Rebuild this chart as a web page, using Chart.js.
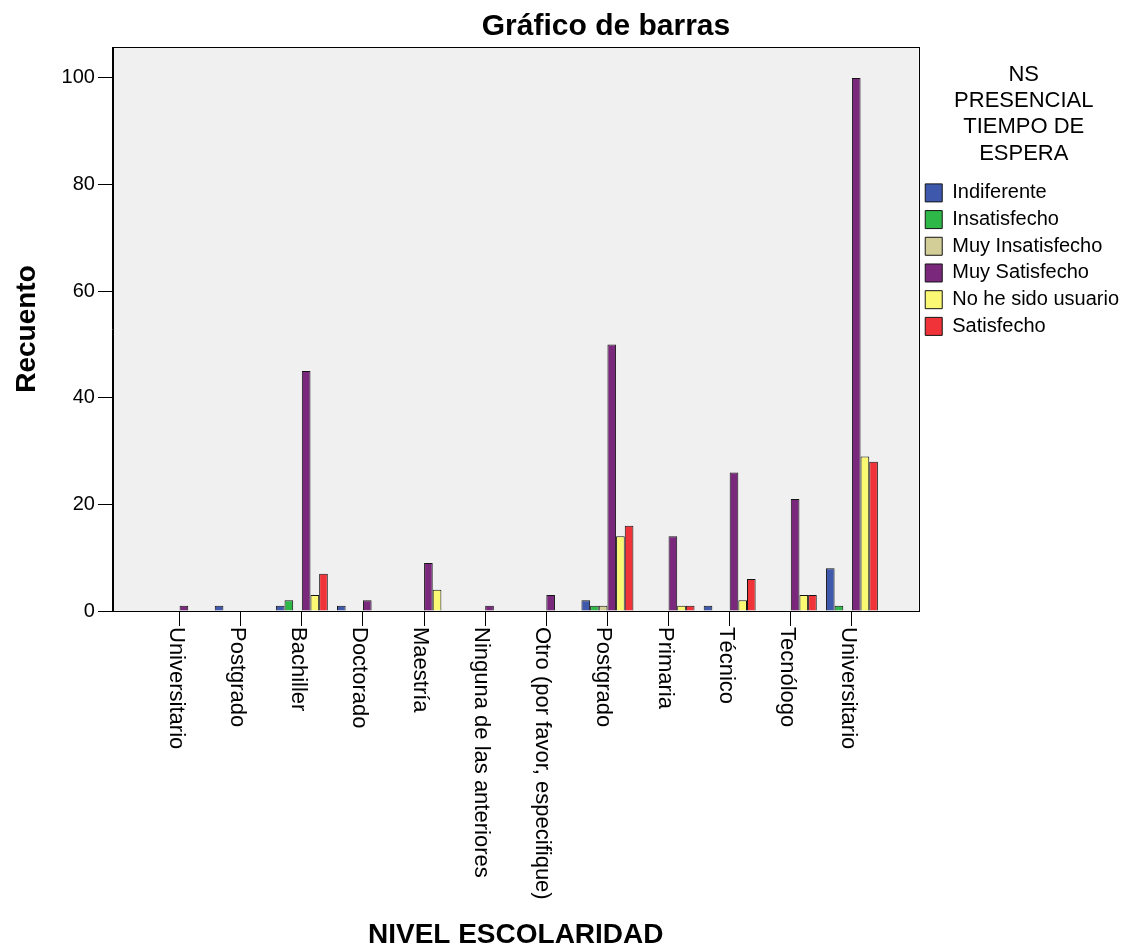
<!DOCTYPE html>
<html lang="es">
<head>
<meta charset="utf-8">
<title>Gráfico de barras</title>
<script src="https://cdn.jsdelivr.net/npm/chart.js@4.4.1/dist/chart.umd.min.js"></script>
<style>
  html, body { margin: 0; padding: 0; background: #fff; }
</style>
</head>
<body>
<canvas id="grafica" width="1129" height="952"></canvas>
<script>
// NIVEL ESCOLARIDAD (orden tal como sale en el gráfico)
const categorias = ['Universitario', 'Postgrado', 'Bachiller', 'Doctorado', 'Maestría', 'Ninguna de las anteriores',
  'Otro (por favor, especifique)', 'Postgrado', 'Primaria', 'Técnico', 'Tecnólogo', 'Universitario']

// recuentos por respuesta de NS PRESENCIAL TIEMPO DE ESPERA
const indiferente = [0, 1, 1, 1, 0, 0, 0, 2, 0, 1, 0, 8]
const insatisfecho = [0, 0, 2, 0, 0, 0, 0, 1, 0, 0, 0, 1]
const muyInsatisfecho = [0, 0, 0, 0, 0, 0, 0, 1, 0, 0, 0, 0]
const muySatisfecho = [1, 0, 45, 2, 9, 1, 3, 50, 14, 26, 21, 100]
const noHeSidoUsuario = [0, 0, 3, 0, 4, 0, 0, 14, 1, 2, 3, 29]
const satisfecho = [0, 0, 7, 0, 0, 0, 0, 16, 1, 6, 3, 28]

const ticksY = [0, 20, 40, 60, 80, 100]
const tituloLeyenda = ['NS', 'PRESENCIAL', 'TIEMPO DE', 'ESPERA']

const fuente = 'Arial, "Liberation Sans", sans-serif'
Chart.defaults.font.family = fuente
Chart.defaults.color = '#000'

// los ceros no se dibujan, pero el hueco se mantiene
const serie = (label, valores, color) => ({
  label: label,
  data: valores.map((v, i) => ({ x: i, y: v === 0 ? null : v })),
  backgroundColor: color,
  borderColor: '#141414',
  borderWidth: 1
})

const fondo = {
  id: 'fondo',
  beforeDraw(chart) {
    const { ctx, chartArea: a } = chart
    ctx.save()
    ctx.fillStyle = '#fff'
    ctx.fillRect(0, 0, chart.width, chart.height)
    ctx.fillStyle = '#f0f0f0'
    ctx.fillRect(a.left, a.top, a.right - a.left, a.bottom - a.top)
    ctx.restore()
  },
  afterDatasetsDraw(chart) {
    const { ctx, chartArea: a } = chart
    ctx.save()
    ctx.strokeStyle = '#000'
    ctx.lineWidth = 1
    ctx.strokeRect(Math.round(a.left) + 0.5, Math.round(a.top) + 0.5, Math.round(a.right - a.left), Math.round(a.bottom - a.top))
    ctx.restore()
  }
}

// título principal y etiquetas del eje X (giradas hacia abajo, como en SPSS)
const textos = {
  id: 'textos',
  afterDraw(chart) {
    const { ctx, chartArea, scales: { x } } = chart
    ctx.save()
    ctx.fillStyle = '#000'
    ctx.font = 'bold 30px ' + fuente
    ctx.textAlign = 'center'
    ctx.textBaseline = 'alphabetic'
    ctx.fillText('Gráfico de barras', 606, 35)

    ctx.font = '22px ' + fuente
    ctx.textAlign = 'left'
    x.ticks.forEach(t => {
      ctx.save()
      ctx.translate(x.getPixelForValue(t.value), chartArea.bottom + 15)
      ctx.rotate(Math.PI / 2)
      ctx.fillText(categorias[t.value], 1, 10)
      ctx.restore()
    })
    ctx.restore()
  }
}

new Chart(document.querySelector('#grafica'), {
  type: 'bar',
  data: {
    datasets: [
      serie('Indiferente', indiferente, '#3e58ac'),
      serie('Insatisfecho', insatisfecho, '#2eb848'),
      serie('Muy Insatisfecho', muyInsatisfecho, '#d3ce97'),
      serie('Muy Satisfecho', muySatisfecho, '#7a287c'),
      serie('No he sido usuario', noHeSidoUsuario, '#fbf873'),
      serie('Satisfecho', satisfecho, '#ef3338')
    ]
  },
  options: {
    responsive: false,
    devicePixelRatio: 1,
    animation: false,
    events: [],
    layout: { padding: { top: 47, right: 0, bottom: 0, left: 0 } },
    datasets: { bar: { categoryPercentage: 0.85, barPercentage: 1 } },
    scales: {
      x: {
        type: 'linear',
        offset: false,
        min: -1.09,
        max: 12.09,
        afterBuildTicks: s => { s.ticks = categorias.map((c, i) => ({ value: i })) },
        ticks: { display: false },
        grid: { offset: false, drawOnChartArea: false, drawTicks: true, tickLength: 15, color: '#000' },
        border: { color: '#000' },
        title: {
          display: true, text: 'NIVEL ESCOLARIDAD', color: '#000',
          font: { size: 28, weight: 'bold', lineHeight: 1.2 },
          padding: { top: 292.4, bottom: 0 }
        }
      },
      y: {
        min: 0,
        max: 105.8,
        afterBuildTicks: s => { s.ticks = ticksY.map(v => ({ value: v })) },
        ticks: { color: '#000', font: { size: 20 }, padding: 3 },
        grid: { drawOnChartArea: false, drawTicks: true, tickLength: 15, color: '#000' },
        border: { color: '#000' },
        title: {
          display: true, text: 'Recuento', color: '#000',
          font: { size: 28, weight: 'bold', lineHeight: 1.2 },
          padding: { top: 10, bottom: 15 }
        }
      }
    },
    plugins: {
      title: { display: false },
      tooltip: { enabled: false },
      legend: {
        position: 'right',
        align: 'start',
        fullSize: false,
        title: {
          display: true,
          text: tituloLeyenda,
          color: '#000',
          font: { size: 22, lineHeight: 1.19 },
          padding: { top: 17, bottom: 86 }
        },
        labels: { boxWidth: 17, boxHeight: 18, padding: 6.7, color: '#000', font: { size: 20 } }
      }
    }
  },
  plugins: [fondo, textos]
})
</script>
</body>
</html>
